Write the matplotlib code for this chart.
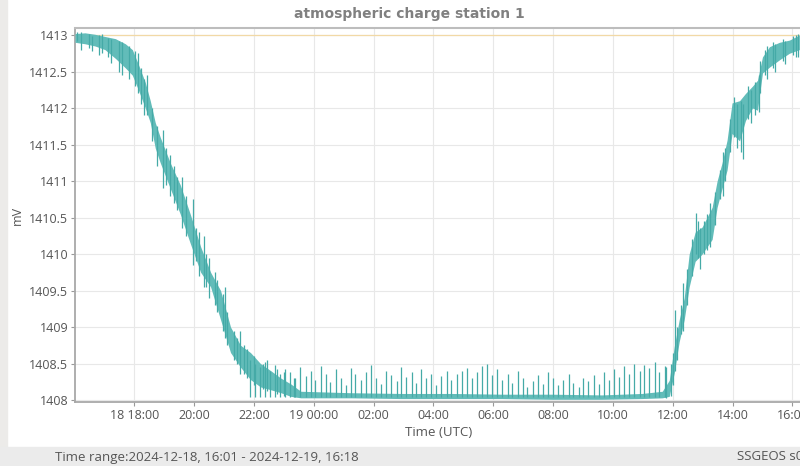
import matplotlib
matplotlib.use("Agg")
import matplotlib.pyplot as plt
import matplotlib.dates as mdates
import numpy as np
import pandas as pd

START = "2024-12-18 16:01"
END = "2024-12-19 16:18"

# envelope of the noisy trace, minutes after 16:01, lower / upper mV
env_min = [0, 20, 40, 60, 81, 101, 115, 127, 141, 151, 161, 171, 191, 211, 231, 252,
           272, 292, 312, 332, 352, 372, 393, 413, 433, 453, 554, 654, 755, 856, 956,
           1057, 1137, 1178, 1192, 1202, 1212, 1222, 1232, 1244, 1258, 1278, 1288, 1298,
           1308, 1318, 1333, 1345, 1359, 1369, 1379, 1393, 1413, 1433, 1453]
env_low = [1412.90, 1412.88, 1412.85, 1412.80, 1412.68, 1412.55, 1412.45, 1412.25, 1412.00,
           1411.80, 1411.45, 1411.25, 1410.90, 1410.55, 1410.15, 1409.75, 1409.55, 1409.10,
           1408.65, 1408.45, 1408.28, 1408.18, 1408.14, 1408.10, 1408.05, 1408.03, 1408.03,
           1408.02, 1408.02, 1408.02, 1408.01, 1408.01, 1408.02, 1408.03, 1408.05, 1408.37,
           1408.80, 1409.10, 1409.55, 1409.90, 1410.00, 1410.20, 1410.64, 1410.90, 1411.15,
           1411.65, 1411.55, 1411.83, 1412.00, 1411.97, 1412.48, 1412.56, 1412.66, 1412.75,
           1412.80]
env_high = [1413.02, 1413.03, 1413.01, 1412.98, 1412.95, 1412.88, 1412.80, 1412.60, 1412.35,
            1412.10, 1411.80, 1411.60, 1411.25, 1410.95, 1410.55, 1410.10, 1409.75, 1409.50,
            1409.00, 1408.75, 1408.65, 1408.50, 1408.40, 1408.30, 1408.22, 1408.12, 1408.10,
            1408.09, 1408.09, 1408.08, 1408.08, 1408.07, 1408.09, 1408.12, 1408.27, 1408.73,
            1409.10, 1409.40, 1410.00, 1410.30, 1410.37, 1410.64, 1411.00, 1411.25, 1411.56,
            1412.07, 1412.10, 1412.20, 1412.30, 1412.38, 1412.70, 1412.84, 1412.90, 1412.93,
            1413.00]

# short upward spikes during the night
spike_min = [352, 362, 371, 382, 392, 401, 412, 421, 432, 441,
             452, 463, 473, 482, 493, 503, 512, 523, 534, 543,
             553, 562, 574, 584, 593, 604, 614, 623, 634, 645,
             654, 664, 675, 684, 694, 705, 714, 725, 735, 746,
             755, 766, 776, 786, 797, 806, 817, 827, 836, 847,
             857, 868, 877, 888, 898, 907, 918, 929, 938, 948,
             959, 969, 979, 990, 999, 1010, 1020, 1030, 1041, 1051,
             1061, 1072, 1081, 1091, 1102, 1112, 1122, 1133, 1142, 1152,
             1163, 1172, 1183]
spike_top = [1408.55, 1408.50, 1408.45, 1408.52, 1408.40, 1408.48, 1408.35, 1408.42, 1408.38, 1408.30,
             1408.45, 1408.33, 1408.40, 1408.28, 1408.46, 1408.36, 1408.25, 1408.42, 1408.30, 1408.20,
             1408.44, 1408.35, 1408.28, 1408.38, 1408.48, 1408.30, 1408.22, 1408.40, 1408.34, 1408.26,
             1408.45, 1408.32, 1408.38, 1408.24, 1408.42, 1408.30, 1408.36, 1408.20, 1408.33, 1408.40,
             1408.28, 1408.35, 1408.40, 1408.44, 1408.30, 1408.38, 1408.46, 1408.50, 1408.34, 1408.42,
             1408.28, 1408.36, 1408.24, 1408.40, 1408.30, 1408.18, 1408.26, 1408.34, 1408.22, 1408.38,
             1408.30, 1408.20, 1408.28, 1408.36, 1408.24, 1408.18, 1408.30, 1408.26, 1408.34, 1408.22,
             1408.38, 1408.28, 1408.42, 1408.32, 1408.46, 1408.36, 1408.50, 1408.40, 1408.48, 1408.44,
             1408.52, 1408.38, 1408.46]

# noisy strokes on the slopes (minute, from, to)
out_min = [5, 12, 28, 35, 48, 55, 66, 72, 88, 95, 108, 120, 127, 133, 138, 145, 155, 165,
           177, 183, 190, 198, 205, 215, 222, 236, 243, 248, 258, 262, 268, 280, 285, 296,
           300, 305, 318, 325, 330, 340, 345, 360, 378, 385, 405, 420, 440,
           1185, 1196, 1199, 1204, 1207, 1216, 1219, 1227, 1238, 1246, 1250, 1254, 1262,
           1268, 1273, 1283, 1293, 1300, 1303, 1313, 1322, 1327, 1335, 1340, 1350, 1355,
           1364, 1372, 1375, 1384, 1388, 1400, 1405, 1420, 1425, 1440, 1446, 1450]
out_lo = [1412.92, 1412.80, 1412.82, 1412.78, 1412.72, 1412.75, 1412.70, 1412.62, 1412.50,
          1412.45, 1412.40, 1412.30, 1412.20, 1412.05, 1411.90, 1411.90, 1411.55, 1411.20,
          1410.90, 1410.95, 1410.80, 1410.70, 1410.60, 1410.35, 1410.25, 1409.85, 1409.90,
          1409.70, 1409.55, 1409.55, 1409.40, 1409.30, 1409.20, 1408.95, 1408.85, 1408.75,
          1408.55, 1408.50, 1408.35, 1408.35, 1408.30, 1408.20, 1408.15, 1408.12, 1408.08,
          1408.06, 1408.04,
          1408.03, 1408.05, 1408.20, 1408.40, 1408.55, 1408.90, 1408.95, 1409.30, 1409.70,
          1410.00, 1409.95, 1409.80, 1410.00, 1410.05, 1410.10, 1410.40, 1410.75, 1410.80,
          1411.00, 1411.40, 1411.60, 1411.45, 1411.40, 1411.30, 1411.85, 1411.80, 1411.90,
          1411.95, 1412.20, 1412.45, 1412.40, 1412.55, 1412.50, 1412.65, 1412.60, 1412.72,
          1412.70, 1412.70]
out_hi = [1413.04, 1413.04, 1413.02, 1412.98, 1413.00, 1413.02, 1412.96, 1412.95, 1412.92,
          1412.90, 1412.85, 1412.78, 1412.75, 1412.55, 1412.40, 1412.45, 1412.00, 1411.75,
          1411.70, 1411.45, 1411.35, 1411.20, 1411.05, 1411.05, 1410.80, 1410.75, 1410.35,
          1410.30, 1410.25, 1410.00, 1409.95, 1409.75, 1409.65, 1409.45, 1409.55, 1409.20,
          1408.95, 1408.85, 1408.95, 1408.75, 1408.70, 1408.60, 1408.50, 1408.55, 1408.42,
          1408.38, 1408.30,
          1408.45, 1408.50, 1408.65, 1409.23, 1409.00, 1409.30, 1409.60, 1409.80, 1410.20,
          1410.56, 1410.45, 1410.35, 1410.45, 1410.55, 1410.70, 1410.85, 1411.15, 1411.40,
          1411.45, 1411.85, 1412.15, 1412.05, 1412.10, 1412.05, 1412.30, 1412.25, 1412.35,
          1412.45, 1412.65, 1412.80, 1412.85, 1412.90, 1412.88, 1412.95, 1412.92, 1412.98,
          1413.00, 1413.02]

yticks = [1408, 1408.5, 1409, 1409.5, 1410, 1410.5, 1411, 1411.5, 1412, 1412.5, 1413]
xtick_labels = ["18 18:00", "20:00", "22:00", "19 00:00", "02:00", "04:00", "06:00",
                "08:00", "10:00", "12:00", "14:00", "16:00"]

t0 = pd.Timestamp(START)


def to_num(minutes):
    ts = t0 + pd.to_timedelta(np.asarray(minutes, dtype=float), unit="min")
    return mdates.date2num(ts.to_pydatetime())


teal = "#45aaa7"
teal_fill = "#62bcb9"
grey_txt = "#555555"

fig = plt.figure(figsize=(8, 4.66), dpi=100)
fig.patch.set_facecolor("white")
# side strip and status bar of the screenshot
fig.patches.append(plt.Rectangle((0, 0), 0.009, 1, transform=fig.transFigure,
                                 color="#ecebe9", zorder=0))
fig.patches.append(plt.Rectangle((0, 0), 1, 19 / 466, transform=fig.transFigure,
                                 color="#ebebeb", zorder=0))

ax = fig.add_axes([75 / 800, 1 - 402 / 466, 1 - 75 / 800 + 0.002, (402 - 28) / 466])

ax.fill_between(to_num(env_min), env_low, env_high, color=teal_fill, lw=0, zorder=3)
ax.vlines(to_num(spike_min), 1408.04, spike_top, color=teal, lw=0.9, zorder=3)
ax.vlines(to_num(out_min), out_lo, out_hi, color=teal, lw=0.9, zorder=3)
ax.axhline(1413, color="#f2d9a6", lw=0.9, zorder=2)

ax.set_xlim(to_num([0])[0], to_num([1457.5])[0])
ax.set_ylim(1407.973, 1413.096)

ax.set_yticks(yticks)
ax.set_yticklabels([f"{v:g}" for v in yticks])
xt = pd.date_range("2024-12-18 18:00", "2024-12-19 16:00", freq="2h")
ax.set_xticks(mdates.date2num(xt.to_pydatetime()))
ax.set_xticklabels(xtick_labels)

ax.grid(True, color="#e8e8e8", lw=0.8, zorder=0)
ax.set_axisbelow(True)
for s in ["left", "bottom"]:
    ax.spines[s].set_color("#a8a8a8")
    ax.spines[s].set_linewidth(1.3)
ax.spines["top"].set_color("#bdbdbd")
ax.spines["top"].set_linewidth(1.5)
ax.spines["right"].set_visible(False)
ax.tick_params(colors="#999999", labelcolor=grey_txt, length=3, width=0.8, pad=2)
for lab in ax.get_xticklabels() + ax.get_yticklabels():
    lab.set_fontfamily("Open Sans")
    lab.set_fontsize(9)

ax.set_ylabel("mV", fontsize=9, color=grey_txt, family="Open Sans", labelpad=4)
ax.set_xlabel("Time (UTC)", fontsize=9.5, color=grey_txt, family="Open Sans", labelpad=3)

fig.text(409 / 800, 1 - 14 / 466, "atmospheric charge station 1", ha="center", va="center",
         fontsize=10, fontweight="bold", color="#808080")
fig.text(55 / 800, 9 / 466, "Time range:2024-12-18, 16:01 - 2024-12-19, 16:18", ha="left",
         va="center", fontsize=9.5, color=grey_txt, family="Open Sans")
fig.text(737 / 800, 9 / 466, "SSGEOS s01", ha="left", va="center", fontsize=9.5,
         color=grey_txt, family="Open Sans")

fig.savefig("out.png", dpi=100)
